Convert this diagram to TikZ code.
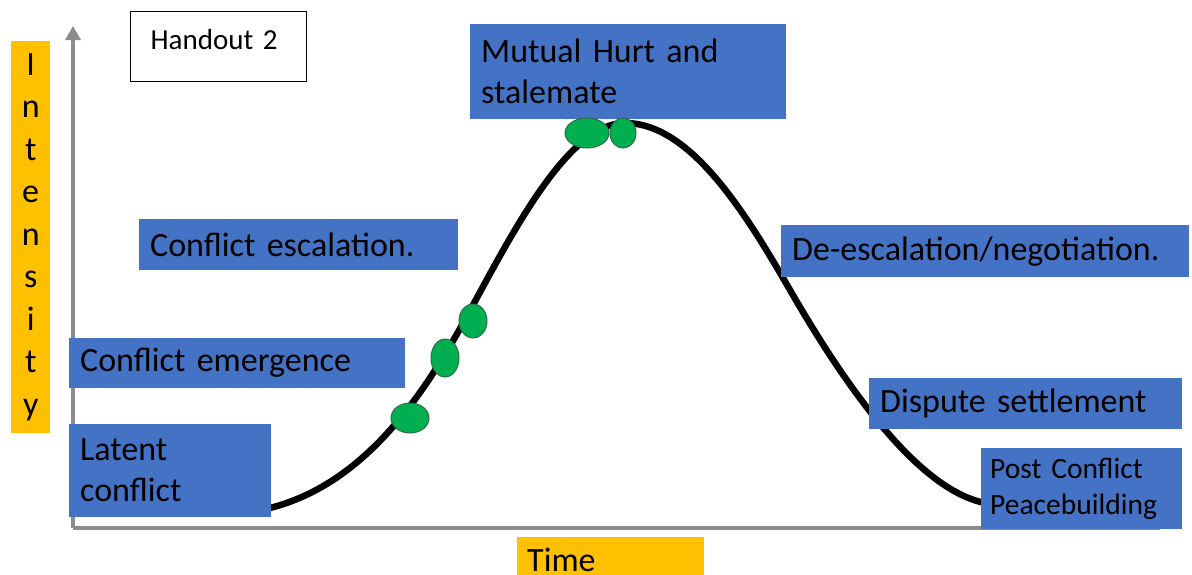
\documentclass[tikz,border=0pt]{standalone}
\usepackage{fontspec}
\setmainfont{Carlito}[WordSpace=0.8]
\usepackage{tikz}
\usetikzlibrary{arrows.meta}
\definecolor{stageblue}{HTML}{4472C4}
\definecolor{axisgold}{HTML}{FFC000}
\definecolor{dotgreen}{HTML}{00B050}
\definecolor{dotedge}{HTML}{2E6B45}
\tikzset{
    stagebox/.style={fill=stageblue, anchor=north west, align=left,
        inner xsep=11pt, inner ysep=0pt, font=\fontsize{34}{41}\selectfont},
    goldbox/.style={fill=axisgold, anchor=north west, inner sep=0pt},
    axisline/.style={black!45, line width=4pt},
    dot/.style={fill=dotgreen, draw=dotedge, line width=1pt},
}

\begin{document}
\begin{tikzpicture}[x=1pt, y=-1pt]
\useasboundingbox (0,0) rectangle (1192,574);
\clip (0,0) rectangle (1192,574);
\fill[white] (0,0) rectangle (1192,574);

\coordinate (origin) at (73,528);
\coordinate (ytop) at (73,26);
\coordinate (xend) at (1160,528);
\draw[axisline, -{Triangle[length=14pt, width=15pt]}] (origin) -- (ytop);
\draw[axisline] (origin) -- (xend);

% the conflict curve
\coordinate (rise) at (462,325);
\coordinate (peak) at (625,123);
\coordinate (fall) at (790,290);
\draw[line width=6.5pt, line cap=round] (270,508)
    .. controls (360,485) and (418,404) .. (rise)
    .. controls (506,246) and (565,123) .. (peak)
    .. controls (690,123) and (745,212) .. (fall)
    .. controls (865,420) and (930,492) .. (985,503);

\node[stagebox, text width=180pt, minimum height=93pt] (latent) at (69,424) {Latent\\conflict};
\node[stagebox, text width=314pt, minimum height=50pt] (emergence) at (69,338) {Conflict emergence};
\node[stagebox, text width=297pt, minimum height=51pt] (escalation) at (139,219) {Conflict escalation.};
\node[stagebox, text width=294pt, minimum height=95pt] (stalemate) at (470,24) {Mutual Hurt and\\stalemate};
\node[stagebox, text width=386pt, minimum height=52pt] (deescalation) at (781,225) {De-escalation/negotiation.};
\node[stagebox, text width=291pt, minimum height=51pt] (settlement) at (869,378) {Dispute settlement};
\node[stagebox, text width=183pt, inner xsep=9pt, minimum height=81pt, font=\fontsize{29.5}{36}\selectfont] (peacebuilding) at (981,448) {Post Conflict\\Peacebuilding};

\node[draw=black, fill=white, line width=1.2pt, anchor=north west, inner xsep=20pt, inner ysep=0pt,
    text width=136pt, text height=38pt, text depth=32pt, font=\fontsize{29}{35}\selectfont] (handout) at (130,11) {Handout 2};

\node[goldbox, minimum width=39pt, minimum height=392pt, align=center, font=\fontsize{34}{42.5}\selectfont] (intensity) at (11,41) {I\\n\\t\\e\\n\\s\\i\\t\\y};
\node[goldbox, inner xsep=10pt, text width=167pt, text height=34pt, text depth=20pt, font=\fontsize{34}{41}\selectfont] (time) at (517,537) {Time};

%\draw[step=50] (0,0) grid (1192,574);
\draw[dot] (410,418) ellipse [x radius=19, y radius=15];
\draw[dot] (445,358) ellipse [x radius=14, y radius=19];
\draw[dot] (473,321) ellipse [x radius=14, y radius=17];
\draw[dot] (587,133) ellipse [x radius=22, y radius=15];
\draw[dot] (623,133) ellipse [x radius=13, y radius=15];
\end{tikzpicture}
\end{document}
